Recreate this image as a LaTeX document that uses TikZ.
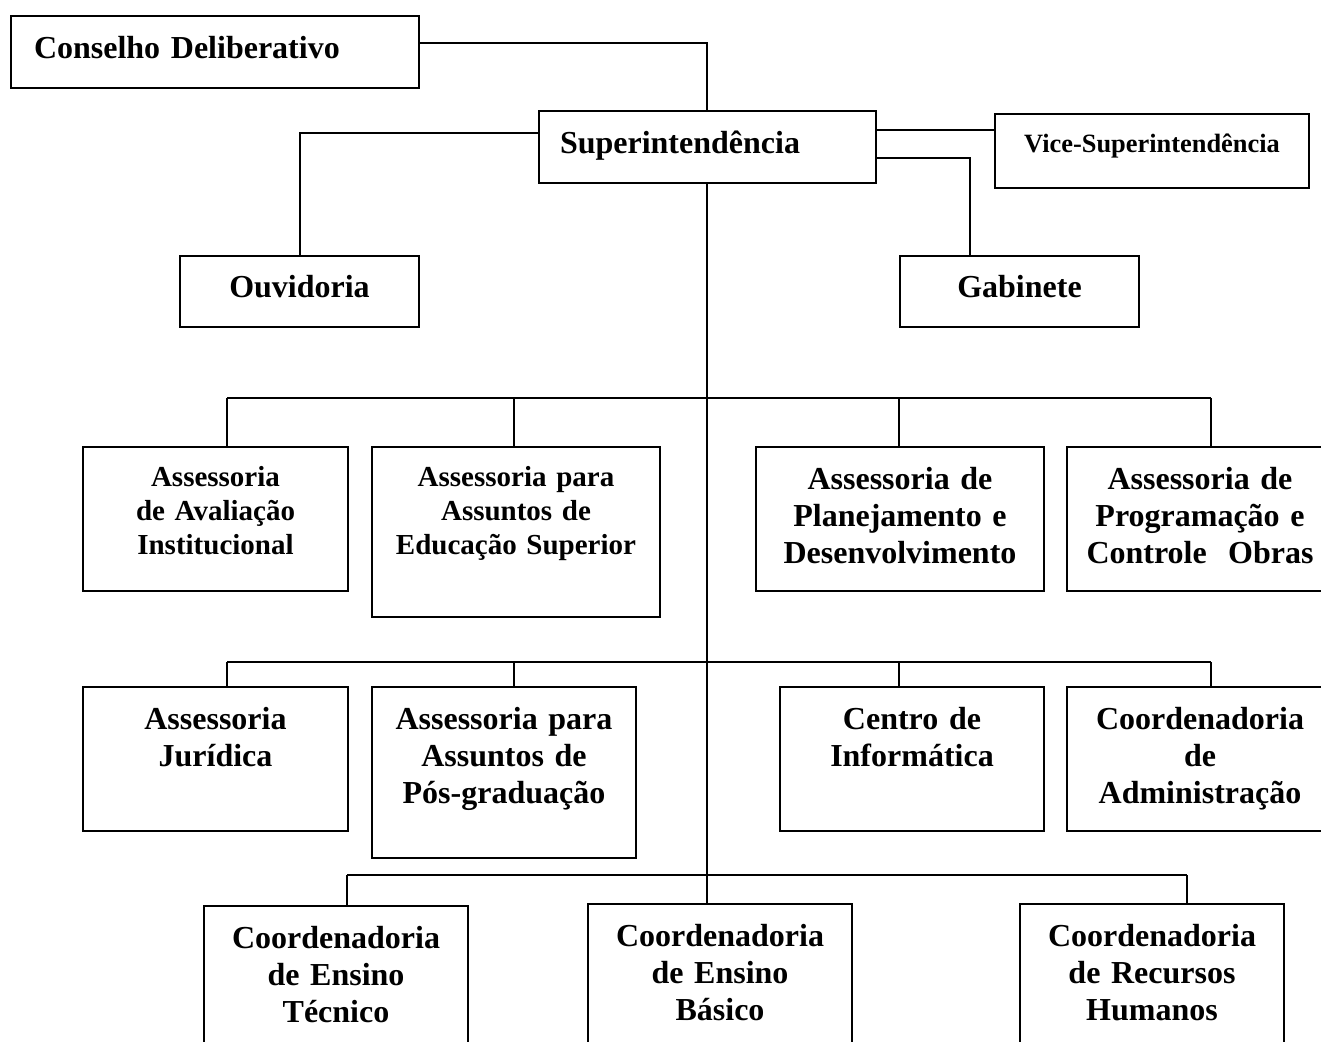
\documentclass[tikz,border=0pt]{standalone}
\usepackage{fontspec}
\setmainfont{Liberation Serif}

\begin{document}
\begin{tikzpicture}[
    x=1pt, y=-1pt,
    box/.style={
        draw,
        line width=2pt,
        inner sep=0pt,
        anchor=north west,
        align=center,
        font=\bfseries\fontsize{32}{37}\selectfont
    },
    smalltext/.style={font=\bfseries\fontsize{29}{34}\selectfont},
    dims/.style n args={3}{text width=#1pt, text height=#2pt, text depth=#3pt},
    link/.style={line width=2pt}
    ]

    \useasboundingbox (0,0) rectangle (1321,1041);
    \clip (0,0) rectangle (1321,1041);

    % top of the chart
    \node[box, align=left, inner xsep=23pt, dims={362}{43}{29}] (cons) at (10,15) {Conselho Deliberativo};
    \node[box, align=left, inner xsep=21pt, dims={295}{42}{30}] (sup) at (538,110) {Superintendência};
    \node[box, font=\bfseries\fontsize{26.4}{30}\selectfont, dims={314}{38}{36}] (vice) at (994,113) {Vice-Superintendência};
    \node[box, dims={239}{41}{30}] (ouv) at (179,255) {Ouvidoria};
    \node[box, dims={239}{41}{30}] (gab) at (899,255) {Gabinete};

    % first row
    \node[box, smalltext, dims={265}{39}{105}] (r1a) at (82,446) {Assessoria\\ de Avaliação\\ Institucional};
    \node[box, smalltext, dims={288}{39}{131}] (r1b) at (371,446) {Assessoria para\\ Assuntos de\\ Educação Superior};
    \node[box, dims={288}{42}{102}] (r1c) at (755,446) {Assessoria de\\ Planejamento e\\ Desenvolvimento};
    \node[box, dims={266}{42}{102}] (r1d) at (1066,446) {Assessoria de\\ Programação e\\ Controle\ \ Obras};

    % second row
    \node[box, dims={265}{42}{102}] (r2a) at (82,686) {Assessoria\\ Jurídica};
    \node[box, dims={264}{42}{129}] (r2b) at (371,686) {Assessoria para\\ Assuntos de\\ Pós-graduação};
    \node[box, dims={264}{42}{102}] (r2c) at (779,686) {Centro de\\ Informática};
    \node[box, dims={266}{42}{102}] (r2d) at (1066,686) {Coordenadoria\\ de\\ Administração};

    % third row
    \node[box, dims={264}{42}{108}] (r3a) at (203,905) {Coordenadoria\\ de Ensino\\ Técnico};
    \node[box, dims={264}{42}{108}] (r3b) at (587,903) {Coordenadoria\\ de Ensino\\ Básico};
    \node[box, dims={264}{42}{108}] (r3c) at (1019,903) {Coordenadoria\\ de Recursos\\ Humanos};

    % connectors
    \coordinate (spine) at (707,0);
    \draw[link] (cons.east |- 0,43) -| (sup.north -| spine);
    \draw[link] (sup.west |- 0,133) -| (ouv.north);
    \draw[link] (sup.east |- 0,130) -- (vice.west |- 0,130);
    \draw[link] (sup.east |- 0,158) -| (gab.north -| 970,0);
    \draw[link] (sup.south -| spine) -- (spine |- 0,875);

    \draw[link] (227,398) -- (1211,398);
    \foreach \n/\x in {r1a/227, r1b/514, r1c/899, r1d/1211}
        \draw[link] (\x,398) -- (\n.north -| \x,0);

    \draw[link] (227,662) -- (1211,662);
    \foreach \n/\x in {r2a/227, r2b/514, r2c/899, r2d/1211}
        \draw[link] (\x,662) -- (\n.north -| \x,0);

    \draw[link] (347,875) -- (1187,875);
    \foreach \n/\x in {r3a/347, r3b/707, r3c/1187}
        \draw[link] (\x,875) -- (\n.north -| \x,0);

\end{tikzpicture}
\end{document}
